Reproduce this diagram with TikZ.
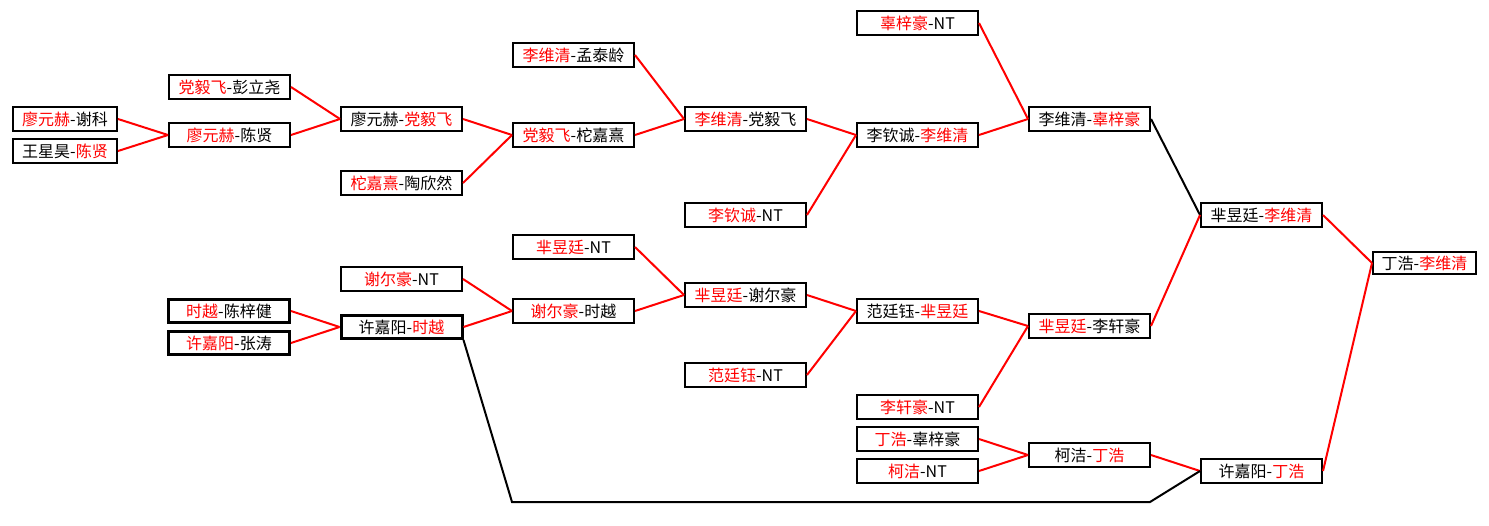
\documentclass[tikz,border=0pt]{standalone}
\usepackage{fontspec}
\setmainfont{Noto Sans CJK SC}
\newcommand{\rn}[1]{\textcolor{red}{#1}}

\begin{document}
\begin{tikzpicture}[x=1pt, y=-1pt,
	entry/.style={draw=black, fill=white, line width=2pt, minimum width=121pt, minimum height=24pt, inner sep=0pt, font=\fontsize{16}{18}\selectfont},
	short/.style={entry, minimum width=104pt},
	heavy/.style={entry, line width=3pt, minimum height=23pt},
	win/.style={red, line width=2pt},
	lose/.style={black, line width=2pt}]
			\useasboundingbox[fill=white] (0,0) rectangle (1489,525);
			\node[short](a1) at (65,119){\rn{廖元赫}-谢科};
			\node[short](a2) at (65,151){王星昊-\rn{陈贤}};
			\node[entry](b1) at (229.5,87){\rn{党毅飞}-彭立尧};
			\node[entry](b2) at (229.5,135){\rn{廖元赫}-陈贤};
			\node[heavy](b3) at (229,311){\rn{时越}-陈梓健};
			\node[heavy](b4) at (229,343){\rn{许嘉阳}-张涛};
			\node[entry](c1) at (401.5,119){廖元赫-\rn{党毅飞}};
			\node[entry](c2) at (401.5,183){\rn{柁嘉熹}-陶欣然};
			\node[entry](c3) at (401.5,279){\rn{谢尔豪}-NT};
			\node[heavy](c4) at (401.5,327){许嘉阳-\rn{时越}};
			\node[entry](d1) at (573.5,55){\rn{李维清}-孟泰龄};
			\node[entry](d2) at (573.5,135){\rn{党毅飞}-柁嘉熹};
			\node[entry](d3) at (573.5,247){\rn{芈昱廷}-NT};
			\node[entry](d4) at (573.5,311){\rn{谢尔豪}-时越};
			\node[entry](e1) at (745.5,119){\rn{李维清}-党毅飞};
			\node[entry](e2) at (745.5,215){\rn{李钦诚}-NT};
			\node[entry](e3) at (745.5,295){\rn{芈昱廷}-谢尔豪};
			\node[entry](e4) at (745.5,375){\rn{范廷钰}-NT};
			\node[entry](f1) at (917.5,23){\rn{辜梓豪}-NT};
			\node[entry](f2) at (917.5,135){李钦诚-\rn{李维清}};
			\node[entry](f3) at (917.5,311){范廷钰-\rn{芈昱廷}};
			\node[entry](f4) at (917.5,407){\rn{李轩豪}-NT};
			\node[entry](f5) at (917.5,439){\rn{丁浩}-辜梓豪};
			\node[entry](f6) at (917.5,471){\rn{柯洁}-NT};
			\node[entry](g1) at (1089.5,119){李维清-\rn{辜梓豪}};
			\node[entry](g2) at (1089.5,326){\rn{芈昱廷}-李轩豪};
			\node[entry](g3) at (1089.5,455){柯洁-\rn{丁浩}};
			\node[entry](h1) at (1261.5,215){芈昱廷-\rn{李维清}};
			\node[entry](h2) at (1261.5,471){许嘉阳-\rn{丁浩}};
			\node[entry, minimum width=103pt, minimum height=22pt](i1) at (1424.5,263){丁浩-\rn{李维清}};
			\coordinate (k1) at (512,502);
			\coordinate (k2) at (1150,502);
			\draw[win] (a1.east) -- (b2.west);
			\draw[win] (a2.east) -- (b2.west);
			\draw[win] (b1.east) -- (c1.west);
			\draw[win] (b2.east) -- (c1.west);
			\draw[win] (b3.east) -- (c4.west);
			\draw[win] (b4.east) -- (c4.west);
			\draw[win] (c1.east) -- (d2.west);
			\draw[win] (c2.east) -- (d2.west);
			\draw[win] (c3.east) -- (d4.west);
			\draw[win] (c4.east) -- (d4.west);
			\draw[win] (d1.east) -- (e1.west);
			\draw[win] (d2.east) -- (e1.west);
			\draw[win] (d3.east) -- (e3.west);
			\draw[win] (d4.east) -- (e3.west);
			\draw[win] (e1.east) -- (f2.west);
			\draw[win] (e2.east) -- (f2.west);
			\draw[win] (e3.east) -- (f3.west);
			\draw[win] (e4.east) -- (f3.west);
			\draw[win] (f1.east) -- (g1.west);
			\draw[win] (f2.east) -- (g1.west);
			\draw[win] (f3.east) -- (g2.west);
			\draw[win] (f4.east) -- (g2.west);
			\draw[win] (f5.east) -- (g3.west);
			\draw[win] (f6.east) -- (g3.west);
			\draw[lose] (g1.east) -- (h1.west);
			\draw[win] (g2.east) -- (h1.west);
			\draw[win] (g3.east) -- (h2.west);
			\draw[lose] (c4.south east) -- (k1) -- (k2) -- (h2.west);
			\draw[win] (h1.east) -- (i1.west);
			\draw[win] (h2.east) -- (i1.west);
\end{tikzpicture}
\end{document}
